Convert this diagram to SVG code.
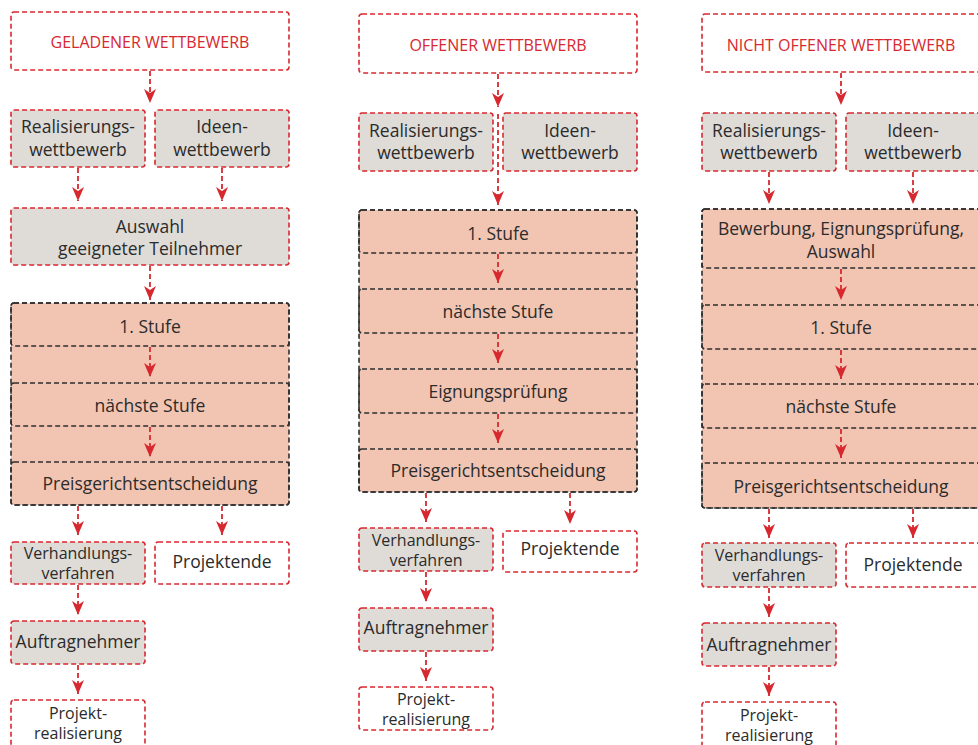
<svg xmlns="http://www.w3.org/2000/svg" width="978" height="745" viewBox="0 0 978 745">
<defs>
<style>
.rw{fill:#ffffff;stroke:#d7282f;stroke-width:1.6;stroke-dasharray:5 3}
.rg{fill:#dfdbd7;stroke:#d7282f;stroke-width:1.6;stroke-dasharray:5 3}
.pk{fill:#f2c5b3;stroke:#2e2e2e;stroke-width:1.6;stroke-dasharray:5 3}
.in{fill:none;stroke:#2e2e2e;stroke-width:1.6;stroke-dasharray:5 3}
text{font-family:"Open Sans","Noto Sans",sans-serif;font-size:17.5px;fill:#2b2b2b;text-anchor:middle}
text.ti{font-size:16px;fill:#d7282f}
text.sm{font-size:16px}
.c{stroke:#d7282f;stroke-width:1.8;stroke-dasharray:5 3;fill:none;marker-end:url(#ah)}
</style>
<marker id="ah" viewBox="0 0 14 12" refX="14" refY="6" markerWidth="14" markerHeight="12" markerUnits="userSpaceOnUse" orient="auto">
<path d="M0,0 L14,6 L0,12 L4,6 Z" fill="#d7282f"/>
</marker>
</defs>

<!-- Column 1 -->
<g id="c1-title"><rect class="rw" x="11" y="12" width="278" height="58" rx="3"/><text class="ti" x="150" y="48">GELADENER WETTBEWERB</text></g>
<g id="c1-real"><rect class="rg" x="11" y="110" width="134" height="57" rx="3"/><text x="78" y="133">Realisierungs-<tspan x="78" dy="23">wettbewerb</tspan></text></g>
<g id="c1-ideen"><rect class="rg" x="155" y="110" width="134" height="57" rx="3"/><text x="222" y="133">Ideen-<tspan x="222" dy="23">wettbewerb</tspan></text></g>
<g id="c1-auswahl"><rect class="rg" x="11" y="208" width="278" height="57" rx="3"/><text x="150" y="233">Auswahl<tspan x="150" dy="22">geeigneter Teilnehmer</tspan></text></g>
<g id="c1-container"><rect class="pk" x="11" y="303" width="278" height="202" rx="3"/></g>
<g id="c1-stufe1"><rect class="in" x="11" y="303" width="278" height="43" rx="3"/><text x="150" y="333">1. Stufe</text></g>
<g id="c1-naechste"><rect class="in" x="11" y="383" width="278" height="43" rx="3"/><text x="150" y="412">nächste Stufe</text></g>
<g id="c1-preis"><rect class="in" x="11" y="462" width="278" height="43" rx="3"/><text x="150" y="490">Preisgerichtsentscheidung</text></g>
<g id="c1-verh"><rect class="rg" x="11" y="542" width="134" height="42" rx="3"/><text class="sm" x="78" y="559">Verhandlungs-<tspan x="78" dy="20">verfahren</tspan></text></g>
<g id="c1-ende"><rect class="rw" x="155" y="542" width="134" height="42" rx="3"/><text x="222" y="568">Projektende</text></g>
<g id="c1-auftrag"><rect class="rg" x="11" y="621" width="134" height="43" rx="3"/><text x="78" y="648">Auftragnehmer</text></g>
<g id="c1-projreal"><rect class="rw" x="11" y="700" width="134" height="48" rx="3"/><text class="sm" x="78" y="719">Projekt-<tspan x="78" dy="20">realisierung</tspan></text></g>

<!-- Column 2 -->
<g id="c2-title"><rect class="rw" x="359" y="14" width="278" height="59" rx="3"/><text class="ti" x="498" y="51">OFFENER WETTBEWERB</text></g>
<g id="c2-real"><rect class="rg" x="359" y="113" width="134" height="58" rx="3"/><text x="426" y="137">Realisierungs-<tspan x="426" dy="22">wettbewerb</tspan></text></g>
<g id="c2-ideen"><rect class="rg" x="503" y="113" width="134" height="58" rx="3"/><text x="570" y="137">Ideen-<tspan x="570" dy="22">wettbewerb</tspan></text></g>
<g id="c2-container"><rect class="pk" x="359" y="210" width="278" height="282" rx="3"/></g>
<g id="c2-stufe1"><rect class="in" x="359" y="210" width="278" height="43" rx="3"/><text x="498" y="240">1. Stufe</text></g>
<g id="c2-naechste"><rect class="in" x="359" y="289" width="278" height="44" rx="3"/><text x="498" y="318">nächste Stufe</text></g>
<g id="c2-eignung"><rect class="in" x="359" y="369" width="278" height="44" rx="3"/><text x="498" y="398">Eignungsprüfung</text></g>
<g id="c2-preis"><rect class="in" x="359" y="449" width="278" height="43" rx="3"/><text x="498" y="477">Preisgerichtsentscheidung</text></g>
<g id="c2-verh"><rect class="rg" x="359" y="528" width="134" height="43" rx="3"/><text class="sm" x="426" y="546">Verhandlungs-<tspan x="426" dy="20">verfahren</tspan></text></g>
<g id="c2-ende"><rect class="rw" x="503" y="531" width="134" height="41" rx="3"/><text x="570" y="555">Projektende</text></g>
<g id="c2-auftrag"><rect class="rg" x="359" y="608" width="134" height="43" rx="3"/><text x="426" y="634">Auftragnehmer</text></g>
<g id="c2-projreal"><rect class="rw" x="359" y="687" width="134" height="43" rx="3"/><text class="sm" x="426" y="705">Projekt-<tspan x="426" dy="20">realisierung</tspan></text></g>

<!-- Column 3 -->
<g id="c3-title"><rect class="rw" x="702" y="14" width="278" height="58" rx="3"/><text class="ti" x="841" y="51">NICHT OFFENER WETTBEWERB</text></g>
<g id="c3-real"><rect class="rg" x="702" y="113" width="134" height="58" rx="3"/><text x="769" y="137">Realisierungs-<tspan x="769" dy="22">wettbewerb</tspan></text></g>
<g id="c3-ideen"><rect class="rg" x="846" y="113" width="134" height="58" rx="3"/><text x="913" y="137">Ideen-<tspan x="913" dy="22">wettbewerb</tspan></text></g>
<g id="c3-container"><rect class="pk" x="702" y="209" width="278" height="299" rx="3"/></g>
<g id="c3-bewerbung"><rect class="in" x="702" y="209" width="278" height="59" rx="3"/><text x="841" y="235">Bewerbung, Eignungsprüfung,<tspan x="841" dy="23">Auswahl</tspan></text></g>
<g id="c3-stufe1"><rect class="in" x="702" y="305" width="278" height="44" rx="3"/><text x="841" y="334">1. Stufe</text></g>
<g id="c3-naechste"><rect class="in" x="702" y="384" width="278" height="44" rx="3"/><text x="841" y="413">nächste Stufe</text></g>
<g id="c3-preis"><rect class="in" x="702" y="463" width="278" height="45" rx="3"/><text x="841" y="493">Preisgerichtsentscheidung</text></g>
<g id="c3-verh"><rect class="rg" x="702" y="543" width="134" height="44" rx="3"/><text class="sm" x="769" y="561">Verhandlungs-<tspan x="769" dy="20">verfahren</tspan></text></g>
<g id="c3-ende"><rect class="rw" x="846" y="543" width="134" height="44" rx="3"/><text x="913" y="571">Projektende</text></g>
<g id="c3-auftrag"><rect class="rg" x="702" y="623" width="134" height="43" rx="3"/><text x="769" y="651">Auftragnehmer</text></g>
<g id="c3-projreal"><rect class="rw" x="702" y="702" width="134" height="48" rx="3"/><text class="sm" x="769" y="721">Projekt-<tspan x="769" dy="20">realisierung</tspan></text></g>

<g id="connectors">
<line class="c" x1="150" y1="71" x2="150" y2="103"/>
<line class="c" x1="78" y1="168" x2="78" y2="201"/>
<line class="c" x1="222" y1="168" x2="222" y2="201"/>
<line class="c" x1="150" y1="266" x2="150" y2="300"/>
<line class="c" x1="150" y1="347" x2="150" y2="377"/>
<line class="c" x1="150" y1="427" x2="150" y2="457"/>
<line class="c" x1="78" y1="506" x2="78" y2="535"/>
<line class="c" x1="222" y1="506" x2="222" y2="535"/>
<line class="c" x1="78" y1="585" x2="78" y2="615"/>
<line class="c" x1="78" y1="665" x2="78" y2="694"/>

<line class="c" x1="498" y1="74" x2="498" y2="107"/>
<line class="c" x1="498" y1="114" x2="498" y2="205"/>
<line class="c" x1="498" y1="254" x2="498" y2="283"/>
<line class="c" x1="498" y1="334" x2="498" y2="363"/>
<line class="c" x1="498" y1="414" x2="498" y2="443"/>
<line class="c" x1="426" y1="493" x2="426" y2="522"/>
<line class="c" x1="570" y1="493" x2="570" y2="524"/>
<line class="c" x1="426" y1="572" x2="426" y2="602"/>
<line class="c" x1="426" y1="652" x2="426" y2="681"/>

<line class="c" x1="841" y1="73" x2="841" y2="105"/>
<line class="c" x1="769" y1="172" x2="769" y2="204"/>
<line class="c" x1="913" y1="172" x2="913" y2="204"/>
<line class="c" x1="841" y1="269" x2="841" y2="300"/>
<line class="c" x1="841" y1="350" x2="841" y2="379"/>
<line class="c" x1="841" y1="429" x2="841" y2="458"/>
<line class="c" x1="769" y1="509" x2="769" y2="538"/>
<line class="c" x1="913" y1="509" x2="913" y2="538"/>
<line class="c" x1="769" y1="588" x2="769" y2="617"/>
<line class="c" x1="769" y1="667" x2="769" y2="696"/>
</g>
</svg>
